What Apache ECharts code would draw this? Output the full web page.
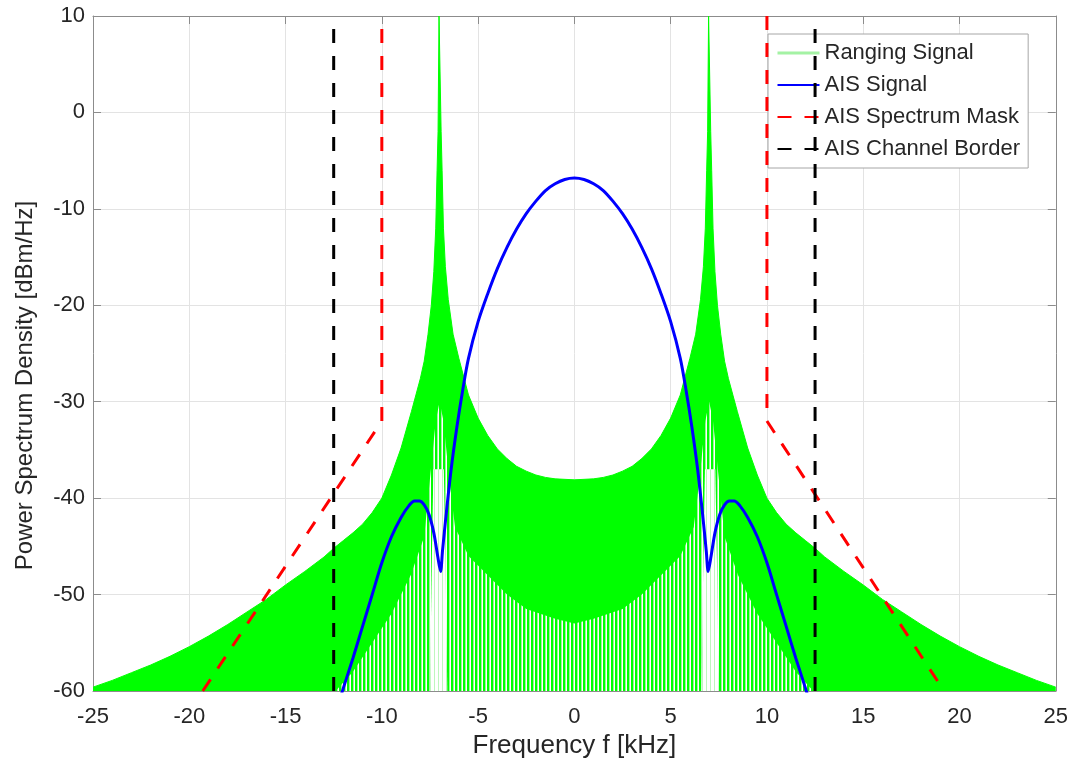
<!DOCTYPE html>
<html>
<head>
<meta charset="utf-8">
<script src="https://cdn.jsdelivr.net/npm/echarts@6/dist/echarts.min.js"></script>
<style>
html,body{margin:0;padding:0;background:#fff;}
#chart{width:1071px;height:770px;}
</style>
</head>
<body>
<div id="chart"></div>
<script>
// ---- Data ----
// Ranging signal: upper envelope of the dense spectrum (kHz, dBm/Hz)
const rangingF = [-25,-24,-23,-22,-21,-20,-19,-18,-17,-16,-15,-14,-13,-12.5,-12,-11.5,-11,-10.5,-10,-9.5,-9,-8.46,-8,-7.8,-7.6,-7.43,-7.3,-7.2,-7.13,-7.08,-7.03,-6.97,-6.92,-6.87,-6.8,-6.7,-6.55,-6.3,-6,-5.5,-5,-4.5,-4,-3.5,-3,-2.5,-2,-1.5,-1,0,
  1,1.5,2,2.5,3,3.5,4,4.5,5,5.5,6,6.3,6.55,6.7,6.8,6.87,6.92,6.97,7.03,7.08,7.13,7.2,7.3,7.43,7.6,7.8,8,8.46,9,9.5,10,10.5,11,11.5,12,12.5,13,14,15,16,17,18,19,20,21,22,23,24,25];
const rangingPsd = [-59.6,-58.9,-58.1,-57.3,-56.4,-55.4,-54.3,-53.1,-51.8,-50.5,-49.0,-47.6,-46.1,-45.2,-44.4,-43.6,-42.7,-41.5,-40.0,-37.6,-34.8,-31.0,-27.6,-25.8,-23.0,-20.0,-16.5,-12.0,-6.0,-2.0,10,10,-2.0,-6.0,-12.0,-16.0,-19.4,-23.0,-25.5,-29.3,-31.7,-33.5,-34.9,-35.9,-36.7,-37.2,-37.6,-37.85,-38.0,-38.1,
  -38.0,-37.85,-37.6,-37.2,-36.7,-35.9,-34.9,-33.5,-31.7,-29.3,-25.5,-23.0,-19.4,-16.0,-12.0,-6.0,-2.0,10,10,-2.0,-6.0,-12.0,-16.5,-20.0,-23.0,-25.8,-27.6,-31.0,-34.8,-37.6,-40.0,-41.5,-42.7,-43.6,-44.4,-45.2,-46.1,-47.6,-49.0,-50.5,-51.8,-53.1,-54.3,-55.4,-56.4,-57.3,-58.1,-58.9,-59.6];
// Ranging signal: top of the band where the oscillation minima leave gaps
const rangingFloorF = [-12.4,-11.5,-10.5,-9.5,-8.5,-7.8,-7.5,-7.2,-7.0,-6.8,-6.5,-6.2,-5.5,-4.5,-3.5,-2.5,-1,0,1,2.5,3.5,4.5,5.5,6.2,6.5,6.8,7.0,7.2,7.5,7.8,8.5,9.5,10.5,11.5,12.4];
const rangingFloorPsd = [-60,-58,-55,-52,-48,-44,-38,-32,-30,-32,-38,-43,-46,-48,-50,-51.5,-52.5,-53,-52.5,-51.5,-50,-48,-46,-43,-38,-32,-30,-32,-38,-44,-48,-52,-55,-58,-60];
// Ranging signal: nearly empty columns around the ±7 kHz lines
const gapLeftF = [-7.5,-7.4,-7.32,-6.78,-6.7,-6.6];
const gapLeftPsd = [-60,-46,-37,-37,-46,-60];
const gapRightF = [6.6,6.7,6.78,7.32,7.4,7.5];
const gapRightPsd = [-60,-46,-37,-37,-46,-60];
// AIS signal
const aisF = [-12.3,-12,-11.5,-11,-10.5,-10,-9.5,-9,-8.6,-8.3,-8.05,-7.8,-7.55,-7.3,-7.1,-6.95,-6.85,-6.65,-6.4,-6.1,-5.8,-5.5,-5,-4.5,-4,-3.5,-3,-2.5,-2,-1.5,-1,-0.5,0,
  0.5,1,1.5,2,2.5,3,3.5,4,4.5,5,5.5,5.8,6.1,6.4,6.65,6.85,6.95,7.1,7.3,7.55,7.8,8.05,8.3,8.6,9,9.5,10,10.5,11,11.5,12,12.3];
const aisPsd = [-61.7,-59.7,-56.6,-53.3,-50.0,-46.7,-44.0,-42.0,-40.8,-40.3,-40.3,-40.7,-41.7,-43.6,-46.0,-47.6,-45.5,-41.5,-37.0,-32.6,-28.8,-25.5,-21.7,-18.8,-16.2,-14.0,-12.1,-10.5,-9.2,-8.1,-7.4,-6.95,-6.8,
  -6.95,-7.4,-8.1,-9.2,-10.5,-12.1,-14.0,-16.2,-18.8,-21.7,-25.5,-28.8,-32.6,-37.0,-41.5,-45.5,-47.6,-46.0,-43.6,-41.7,-40.7,-40.3,-40.3,-40.8,-42.0,-44.0,-46.7,-50.0,-53.3,-56.6,-59.7,-61.7];
// AIS spectrum mask
const maskLeftF = [-19.3,-10,-10];
const maskLeftPsd = [-60,-32,10];
const maskRightF = [10,10,19.2];
const maskRightPsd = [10,-32,-60];
// AIS channel border
const borderLeftF = [-12.5,-12.5];
const borderRightF = [12.5,12.5];
const borderPsd = [-60,10];

const zip = (a,b) => a.map((v,i)=>[v,b[i]]);

function makePattern(cols){
  const c = document.createElement('canvas');
  c.width = cols.length; c.height = 1;
  const ctx = c.getContext('2d');
  cols.forEach((col,i)=>{ctx.fillStyle = col; ctx.fillRect(i,0,1,1);});
  return {image: c, repeat: 'repeat'};
}
const stripePattern = makePattern(['#00ff00','#9cf59c','#ffffff','#00ff00']);
const gapPattern = makePattern(['#ffffff','#ffffff','#bdf7bd','#ffffff']);

const FONT = 'Liberation Sans';
const AX = '#8c8c8c';
const TXT = '#262626';

const chart = echarts.init(document.getElementById('chart'), null, {renderer:'canvas'});
const dashed = [14,13];

chart.setOption({
  animation: false,
  backgroundColor: '#ffffff',
  textStyle: {fontFamily: FONT},
  grid: {left: 93, top: 16, width: 963, height: 675, containLabel: false},
  legend: {
    orient: 'vertical', left: 768, top: 34,
    backgroundColor: '#ffffff', borderColor: '#a6a6a6', borderWidth: 1,
    padding: [8, 8, 8, 8], itemGap: 10, itemWidth: 42, itemHeight: 14,
    itemStyle: {opacity: 0},
    textStyle: {fontFamily: FONT, fontSize: 22, color: TXT, lineHeight: 21},
    data: [
      {name: 'Ranging Signal', itemStyle: {color: '#a4f2a4', opacity: 0}, lineStyle: {color: '#a4f2a4', width: 3}},
      {name: 'AIS Signal'},
      {name: 'AIS Spectrum Mask'},
      {name: 'AIS Channel Border'}
    ]
  },
  xAxis: [{
    type: 'value', min: -25, max: 25, interval: 5,
    name: 'Frequency f [kHz]', nameLocation: 'middle', nameGap: 41,
    nameTextStyle: {fontFamily: FONT, fontSize: 26, color: TXT},
    axisLine: {show: true, onZero: false, lineStyle: {color: AX, width: 1}},
    axisTick: {show: true, inside: true, length: 8, lineStyle: {color: AX}},
    axisLabel: {fontFamily: FONT, fontSize: 22, color: TXT, margin: 15},
    splitLine: {show: true, lineStyle: {color: '#e3e3e3', width: 1}}
  }, {
    type: 'value', min: -25, max: 25, interval: 5, position: 'top',
    axisLine: {show: true, onZero: false, lineStyle: {color: AX, width: 1}},
    axisTick: {show: true, inside: true, length: 8, lineStyle: {color: AX}},
    axisLabel: {show: false}, splitLine: {show: false}
  }],
  yAxis: [{
    type: 'value', min: -60, max: 10, interval: 10,
    name: 'Power Spectrum Density [dBm/Hz]', nameLocation: 'middle', nameGap: 56, nameRotate: 90,
    nameTextStyle: {fontFamily: FONT, fontSize: 24, color: TXT, padding: [0, 64, 0, 0]},
    axisLine: {show: true, onZero: false, lineStyle: {color: AX, width: 1}},
    axisTick: {show: true, inside: true, length: 8, lineStyle: {color: AX}},
    axisLabel: {fontFamily: FONT, fontSize: 22, color: TXT, margin: 8},
    splitLine: {show: true, lineStyle: {color: '#e3e3e3', width: 1}}
  }, {
    type: 'value', min: -60, max: 10, interval: 10, position: 'right',
    axisLine: {show: true, onZero: false, lineStyle: {color: AX, width: 1}},
    axisTick: {show: true, inside: true, length: 8, lineStyle: {color: AX}},
    axisLabel: {show: false}, splitLine: {show: false}
  }],
  series: [
    {
      name: 'Ranging Signal', type: 'line', data: zip(rangingF, rangingPsd),
      symbol: 'none', clip: true, z: 1,
      itemStyle: {color: '#00ff00'},
      lineStyle: {color: '#00ff00', width: 1},
      areaStyle: {color: '#00ff00', opacity: 1, origin: 'start'}
    },
    {
      name: 'Ranging floor', type: 'line', data: zip(rangingFloorF, rangingFloorPsd),
      symbol: 'none', clip: true, z: 2, silent: true,
      lineStyle: {width: 0, opacity: 0},
      areaStyle: {color: stripePattern, opacity: 1, origin: 'start'}
    },
    {
      name: 'Ranging gap L', type: 'line', data: zip(gapLeftF, gapLeftPsd),
      symbol: 'none', clip: true, z: 3, silent: true,
      lineStyle: {width: 0, opacity: 0},
      areaStyle: {color: gapPattern, opacity: 1, origin: 'start'}
    },
    {
      name: 'Ranging gap R', type: 'line', data: zip(gapRightF, gapRightPsd),
      symbol: 'none', clip: true, z: 3, silent: true,
      lineStyle: {width: 0, opacity: 0},
      areaStyle: {color: gapPattern, opacity: 1, origin: 'start'}
    },
    {
      name: 'AIS Signal', type: 'line', data: zip(aisF, aisPsd),
      symbol: 'none', smooth: 0.3, clip: true, z: 6,
      itemStyle: {color: '#0000ff'},
      lineStyle: {color: '#0000ff', width: 3}
    },
    {
      name: 'AIS Spectrum Mask', type: 'line', data: zip(maskLeftF, maskLeftPsd),
      symbol: 'none', clip: true, z: 5,
      itemStyle: {color: '#ff0000'},
      lineStyle: {color: '#ff0000', width: 3, type: dashed}
    },
    {
      name: 'AIS Spectrum Mask', type: 'line', data: zip(maskRightF, maskRightPsd),
      symbol: 'none', clip: true, z: 5,
      itemStyle: {color: '#ff0000'},
      lineStyle: {color: '#ff0000', width: 3, type: dashed}
    },
    {
      name: 'AIS Channel Border', type: 'line', data: zip(borderLeftF, borderPsd),
      symbol: 'none', clip: true, z: 5,
      itemStyle: {color: '#000000'},
      lineStyle: {color: '#000000', width: 3, type: dashed}
    },
    {
      name: 'AIS Channel Border', type: 'line', data: zip(borderRightF, borderPsd),
      symbol: 'none', clip: true, z: 5,
      itemStyle: {color: '#000000'},
      lineStyle: {color: '#000000', width: 3, type: dashed}
    }
  ]
});
</script>
</body>
</html>
